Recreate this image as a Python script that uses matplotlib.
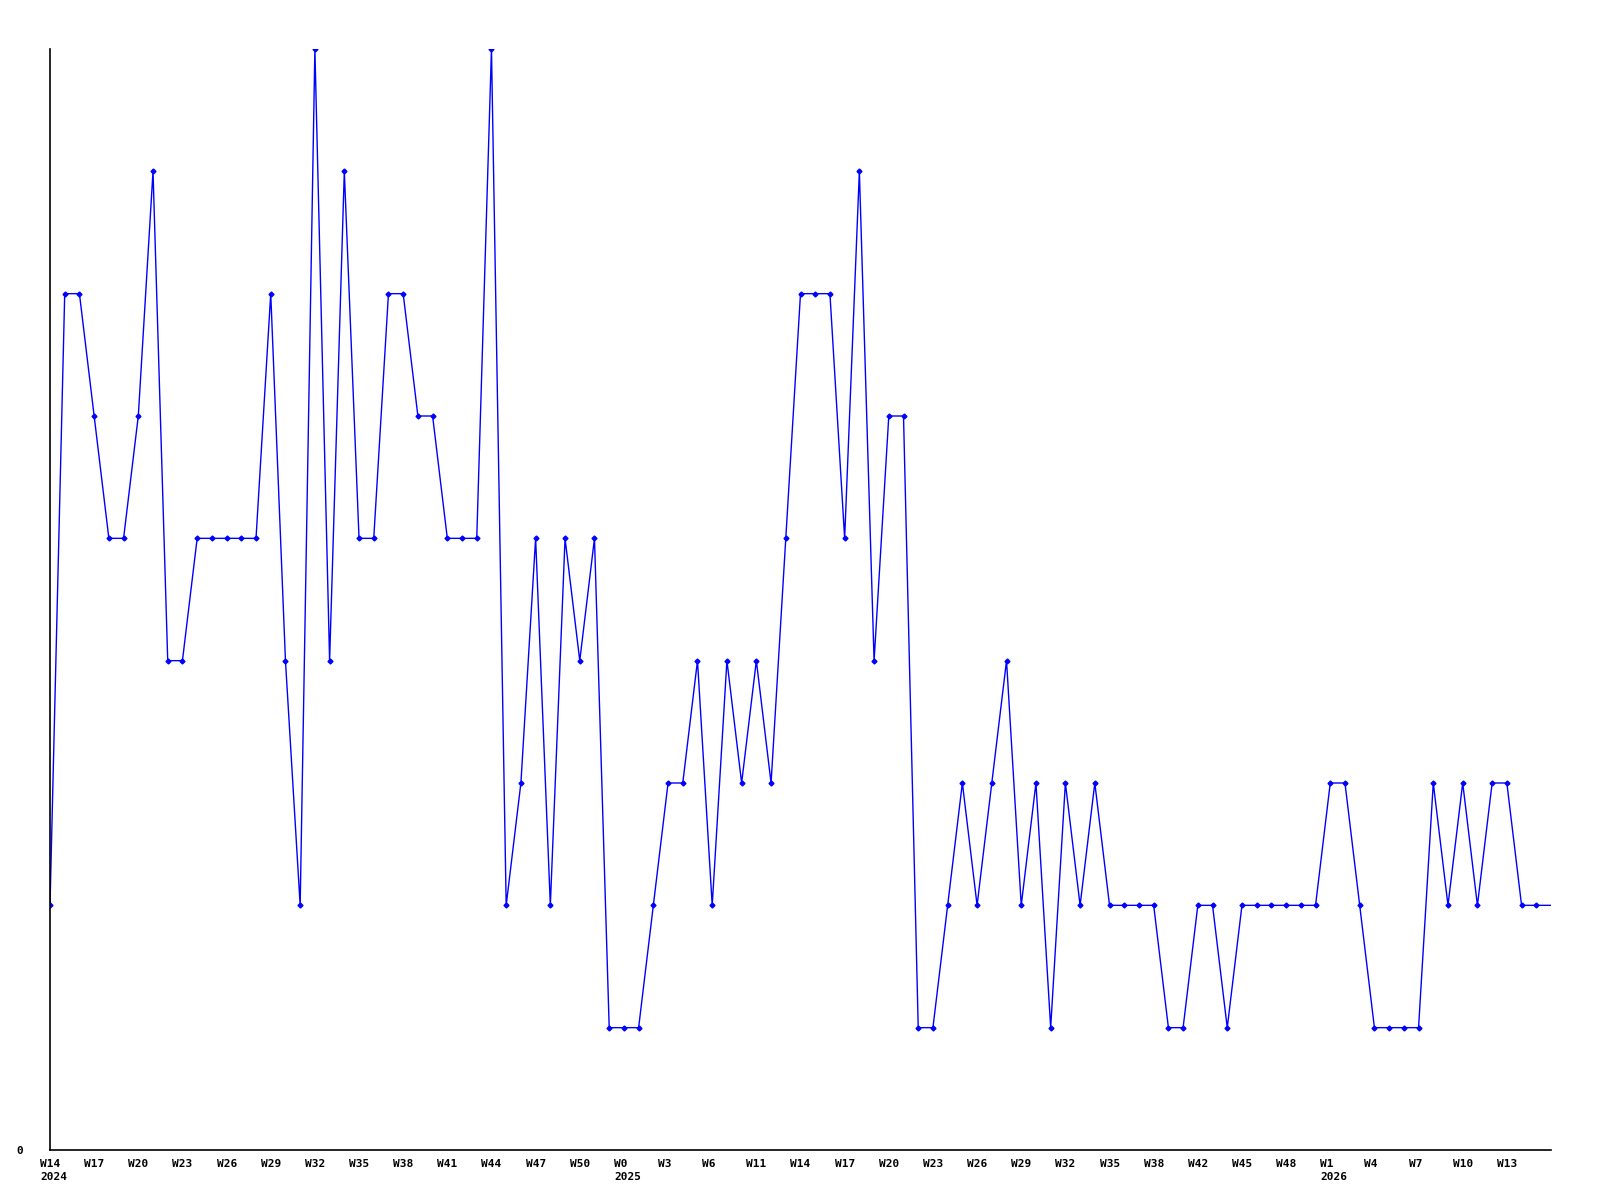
import matplotlib
matplotlib.use("Agg")
import matplotlib.pyplot as plt
from matplotlib.transforms import ScaledTranslation

# weekly counts, 2024 W14 .. 2026 W13 (+ one trailing point past the edge)
values = [2, 7, 7, 6, 5, 5, 6, 8, 4, 4,
          5, 5, 5, 5, 5, 7, 4, 2, 9, 4,
          8, 5, 5, 7, 7, 6, 6, 5, 5, 5,
          9, 2, 3, 5, 2, 5, 4, 5, 1, 1,
          1, 2, 3, 3, 4, 2, 4, 3, 4, 3,
          5, 7, 7, 7, 5, 8, 4, 6, 6, 1,
          1, 2, 3, 2, 3, 4, 2, 3, 1, 3,
          2, 3, 2, 2, 2, 2, 1, 1, 2, 2,
          1, 2, 2, 2, 2, 2, 2, 3, 3, 2,
          1, 1, 1, 1, 3, 2, 3, 2, 3, 3,
          2, 2, 2]

week_labels = ["W14", "W17", "W20", "W23", "W26", "W29", "W32", "W35", "W38",
               "W41", "W44", "W47", "W50",
               "W0", "W3", "W6", "W11", "W14", "W17", "W20", "W23", "W26",
               "W29", "W32", "W35", "W38", "W42", "W45", "W48",
               "W1", "W4", "W7", "W10", "W13"]
year_labels = {0: "2024", 13: "2025", 29: "2026"}

fig = plt.figure(figsize=(16, 12), dpi=100)
ax = fig.add_axes([50 / 1600, 50 / 1200, 1501 / 1600, 1101 / 1200])

xs = list(range(len(values)))
ax.plot(xs, values, color="#0000ff", lw=1.0, marker="D", ms=2.5,
        markevery=slice(0, len(values) - 1), clip_on=True)

ax.set_xlim(0, 102)
ax.set_ylim(0, 9)

for s in ["top", "right"]:
    ax.spines[s].set_visible(False)
for s in ["left", "bottom"]:
    ax.spines[s].set_color("black")
    ax.spines[s].set_linewidth(1.2)
    ax.spines[s].set_zorder(5)

ax.set_xticks([])
ax.set_yticks([0])
ax.set_yticklabels(["0"], family="DejaVu Sans Mono", fontweight="bold", fontsize=8)
ax.tick_params(axis="y", length=0, pad=19)

off = ScaledTranslation(-10 / 100, 0, fig.dpi_scale_trans)
tr = ax.get_xaxis_transform() + off
for i, lab in enumerate(week_labels):
    txt = lab
    if i in year_labels:
        txt = lab + "\n" + year_labels[i]
    ax.text(i * 3, -0.008, txt, transform=tr, ha="left", va="top",
            family="DejaVu Sans Mono", fontweight="bold", fontsize=8,
            linespacing=1.45)

fig.savefig("out.png", dpi=100, facecolor="white")
